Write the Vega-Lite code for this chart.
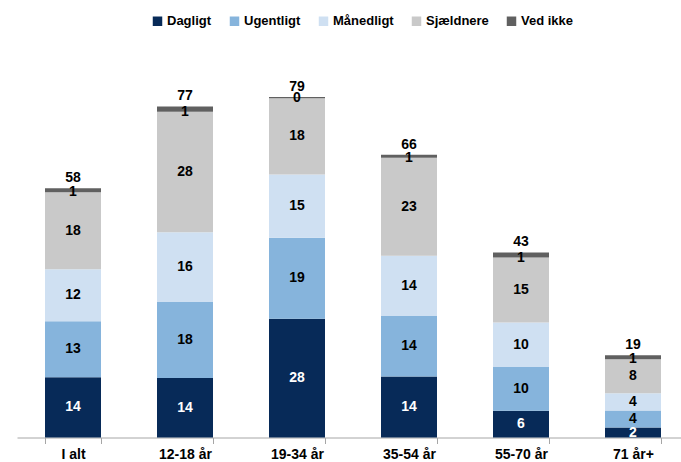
{
  "$schema": "https://vega.github.io/schema/vega-lite/v6.json",
  "width": 664,
  "height": 396,
  "autosize": {"type": "none"},
  "padding": {"left": 17, "top": 41.5, "right": 0, "bottom": 24.5},
  "config": {"view": {"stroke": null}, "font": "Liberation Sans"},
  "data": {
    "values": [
      {"cat": "I alt", "s": "Dagligt", "o": 1, "v": 14.0},
      {"cat": "I alt", "s": "Ugentligt", "o": 2, "v": 13.0},
      {"cat": "I alt", "s": "Månedligt", "o": 3, "v": 12.1},
      {"cat": "I alt", "s": "Sjældnere", "o": 4, "v": 17.9},
      {"cat": "I alt", "s": "Ved ikke", "o": 5, "v": 0.9},
      {"cat": "12-18 år", "s": "Dagligt", "o": 1, "v": 13.8},
      {"cat": "12-18 år", "s": "Ugentligt", "o": 2, "v": 17.7},
      {"cat": "12-18 år", "s": "Månedligt", "o": 3, "v": 16.2},
      {"cat": "12-18 år", "s": "Sjældnere", "o": 4, "v": 28.0},
      {"cat": "12-18 år", "s": "Ved ikke", "o": 5, "v": 1.2},
      {"cat": "19-34 år", "s": "Dagligt", "o": 1, "v": 27.6},
      {"cat": "19-34 år", "s": "Ugentligt", "o": 2, "v": 18.8},
      {"cat": "19-34 år", "s": "Månedligt", "o": 3, "v": 14.7},
      {"cat": "19-34 år", "s": "Sjældnere", "o": 4, "v": 17.7},
      {"cat": "19-34 år", "s": "Ved ikke", "o": 5, "v": 0.3},
      {"cat": "35-54 år", "s": "Dagligt", "o": 1, "v": 14.2},
      {"cat": "35-54 år", "s": "Ugentligt", "o": 2, "v": 14.0},
      {"cat": "35-54 år", "s": "Månedligt", "o": 3, "v": 14.0},
      {"cat": "35-54 år", "s": "Sjældnere", "o": 4, "v": 22.8},
      {"cat": "35-54 år", "s": "Ved ikke", "o": 5, "v": 0.7},
      {"cat": "55-70 år", "s": "Dagligt", "o": 1, "v": 6.2},
      {"cat": "55-70 år", "s": "Ugentligt", "o": 2, "v": 10.2},
      {"cat": "55-70 år", "s": "Månedligt", "o": 3, "v": 10.3},
      {"cat": "55-70 år", "s": "Sjældnere", "o": 4, "v": 15.1},
      {"cat": "55-70 år", "s": "Ved ikke", "o": 5, "v": 1.2},
      {"cat": "71 år+", "s": "Dagligt", "o": 1, "v": 2.3},
      {"cat": "71 år+", "s": "Ugentligt", "o": 2, "v": 4.0},
      {"cat": "71 år+", "s": "Månedligt", "o": 3, "v": 4.0},
      {"cat": "71 år+", "s": "Sjældnere", "o": 4, "v": 7.9},
      {"cat": "71 år+", "s": "Ved ikke", "o": 5, "v": 0.9}
    ]
  },
  "encoding": {
    "x": {
      "field": "cat",
      "type": "nominal",
      "sort": null,
      "scale": {"range": [0, 672], "paddingInner": 0.5, "paddingOuter": 0.25},
      "axis": {
        "title": null,
        "labelAngle": 0,
        "labelFontSize": 14,
        "labelFontWeight": "bold",
        "labelColor": "#000000",
        "labelPadding": 4,
        "domainColor": "#a6a6a6",
        "tickColor": "#a6a6a6",
        "tickBand": "extent",
        "tickSize": 6
      }
    }
  },
  "layer": [
    {
      "transform": [
        {"stack": "v", "groupby": ["cat"], "sort": [{"field": "o"}], "as": ["v0", "v1"]},
        {"calculate": "(datum.v0 + datum.v1) / 2", "as": "mid"}
      ],
      "layer": [
        {
          "mark": {"type": "bar"},
          "encoding": {
            "y": {"field": "v0", "type": "quantitative", "scale": {"domain": [0, 92], "nice": false}, "axis": null},
            "y2": {"field": "v1"},
            "color": {
              "field": "s",
              "type": "nominal",
              "scale": {
                "domain": ["Dagligt", "Ugentligt", "Månedligt", "Sjældnere", "Ved ikke"],
                "range": ["#072a58", "#86b4dc", "#cfe0f2", "#c9c9c9", "#606060"]
              },
              "legend": {
                "title": null,
                "orient": "none",
                "direction": "horizontal",
                "legendX": 134,
                "legendY": -27,
                "symbolType": "square",
                "symbolSize": 90,
                "symbolStrokeWidth": 0,
                "symbolOpacity": 1,
                "labelFontSize": 13,
                "labelFontWeight": "bold",
                "labelColor": "#000000",
                "labelOffset": 3,
                "columnPadding": 16
              }
            }
          }
        },
        {
          "transform": [{"filter": "datum.s !== 'Ved ikke'"}],
          "mark": {"type": "text", "fontWeight": "bold", "fontSize": 14, "baseline": "middle"},
          "encoding": {
            "y": {"field": "mid", "type": "quantitative"},
            "text": {"field": "v", "type": "quantitative", "format": ".0f"},
            "color": {
              "condition": {"test": "datum.s === 'Dagligt'", "value": "#ffffff"},
              "value": "#000000"
            }
          }
        },
        {
          "transform": [{"filter": "datum.s === 'Ved ikke'"}],
          "mark": {"type": "text", "fontWeight": "bold", "fontSize": 14, "baseline": "middle", "dy": 0, "color": "#000000"},
          "encoding": {
            "y": {"field": "v0", "type": "quantitative"},
            "text": {"field": "v", "type": "quantitative", "format": ".0f"}
          }
        }
      ]
    },
    {
      "transform": [
        {"aggregate": [{"op": "sum", "field": "v", "as": "total"}], "groupby": ["cat"]}
      ],
      "mark": {"type": "text", "fontWeight": "bold", "fontSize": 14, "baseline": "alphabetic", "dy": -6, "color": "#000000"},
      "encoding": {
        "y": {"field": "total", "type": "quantitative"},
        "text": {"field": "total", "type": "quantitative", "format": ".0f"}
      }
    }
  ]
}
